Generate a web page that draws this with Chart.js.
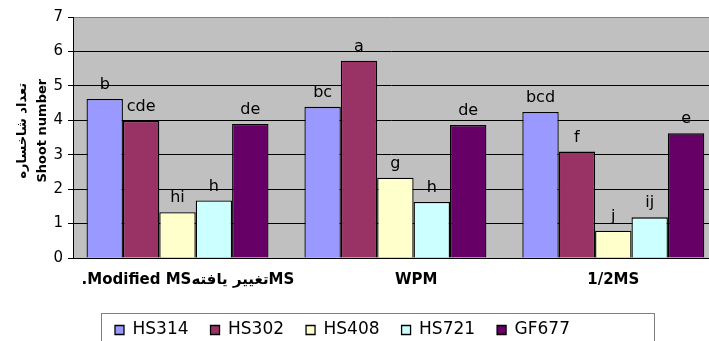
<!DOCTYPE html>
<html><head><meta charset="utf-8">
<script src="https://cdn.jsdelivr.net/npm/chart.js@4.4.1/dist/chart.umd.min.js"></script>
<style>html,body{margin:0;padding:0;background:#fff;overflow:hidden}</style>
</head><body>
<canvas id="c" width="709" height="341" style="width:709px;height:341px;display:block"></canvas>
<script>
const categories = ['\u00a0\u00a0\u00a0\u00a0.Modified MSتغییر یافتهMS', '\u00a0\u00a0\u00a0\u00a0\u00a0\u00a0\u00a0\u00a0WPM', '1/2MS'];
const seriesNames = ['HS314', 'HS302', 'HS408', 'HS721', 'GF677'];
const hs314 = [4.62, 4.39, 4.24];
const hs302 = [3.98, 5.73, 3.09];
const hs408 = [1.33, 2.33, 0.79];
const hs721 = [1.67, 1.63, 1.18];
const gf677 = [3.89, 3.86, 3.62];
const letters314 = ['b', 'bc', 'bcd'];
const letters302 = ['cde', 'a', 'f'];
const letters408 = ['hi', 'g', 'j'];
const letters721 = ['h', 'h', 'ij'];
const lettersGF677 = ['de', 'de', 'e'];
const yTicks = [0, 1, 2, 3, 4, 5, 6, 7];
const yTitle = ['تعداد شاخساره', 'Shoot number'];

const seriesValues = [hs314, hs302, hs408, hs721, gf677];
const seriesLetters = [letters314, letters302, letters408, letters721, lettersGF677];
const seriesColors = ['#9999FF', '#993366', '#FFFFCC', '#CCFFFF', '#660066'];

const datasets = seriesNames.map((name, i) => ({
  label: name,
  data: seriesValues[i].map((v, j) => ({x: j, y: v})),
  backgroundColor: seriesColors[i],
  borderColor: '#000',
  borderWidth: 1.3,
  borderSkipped: 'start',
  categoryPercentage: 0.835,
  barPercentage: 1
}));

const plotBg = {
  id: 'plotBg',
  beforeDraw(chart) {
    const {ctx, chartArea: a} = chart;
    ctx.save();
    ctx.fillStyle = '#C0C0C0';
    ctx.fillRect(a.left, a.top, a.right - a.left, a.bottom - a.top);
    ctx.restore();
  }
};

const letterLabels = {
  id: 'letterLabels',
  afterDatasetsDraw(chart) {
    const ctx = chart.ctx;
    ctx.save();
    ctx.font = '16px "DejaVu Sans"';
    ctx.fillStyle = '#000';
    ctx.textAlign = 'center';
    ctx.textBaseline = 'alphabetic';
    chart.data.datasets.forEach((ds, i) => {
      const meta = chart.getDatasetMeta(i);
      meta.data.forEach((el, j) => {
        ctx.fillText(seriesLetters[i][j], el.x, el.y - 10);
      });
    });
    ctx.restore();
  }
};

const legendPlace = {
  id: 'legendPlace',
  afterLayout(chart) {
    const lg = chart.legend;
    if (!lg || !lg.lineWidths) return;
    const p = lg.options.labels.padding;
    const firstX = (lg.left + p + lg.right - lg.lineWidths[0]) / 2;
    const dx = 115 - firstX;
    lg.left += dx; lg.right += dx;
    lg.top += 7.5; lg.bottom += 7.5;
  },
  afterDraw(chart) {
    const ctx = chart.ctx;
    ctx.save();
    ctx.strokeStyle = '#808080';
    ctx.lineWidth = 1;
    ctx.strokeRect(101.5, 313.5, 553, 40);
    ctx.restore();
  }
};

new Chart(document.getElementById('c'), {
  type: 'bar',
  data: {datasets},
  plugins: [plotBg, letterLabels, legendPlace],
  options: {
    responsive: false,
    animation: false,
    events: [],
    layout: {padding: {top: 17, left: 0, right: 0, bottom: 0}},
    plugins: {
      tooltip: {enabled: false},
      legend: {
        position: 'bottom',
        align: 'center',
        labels: {
          boxWidth: 9, boxHeight: 9, padding: 22, color: '#000',
          font: {family: 'DejaVu Sans', size: 17}
        }
      }
    },
    scales: {
      x: {
        type: 'linear',
        offset: false,
        bounds: 'data',
        min: -0.4796,
        max: 2.4392,
        afterBuildTicks(s) { s.ticks = categories.map((c, i) => ({value: i})); },
        afterFit(s) { s.height = 34; },
        ticks: {
          autoSkip: false, maxRotation: 0, minRotation: 0, padding: 13, color: '#000',
          font: {family: 'DejaVu Sans', size: 15, weight: 'bold'},
          callback: (v) => categories[v]
        },
        grid: {display: false, drawTicks: false, offset: false},
        border: {display: true, color: '#000', width: 1}
      },
      y: {
        min: 0,
        max: 7,
        afterFit(s) { s.width = 73; },
        afterBuildTicks(s) { s.ticks = yTicks.map(v => ({value: v})); },
        ticks: {padding: 5, color: '#000', font: {family: 'DejaVu Sans', size: 15}},
        grid: {
          color: (c) => (c.tick && c.tick.value === 7) ? '#808080' : '#000',
          tickColor: '#000', tickLength: 5, drawTicks: true, lineWidth: 1
        },
        border: {display: true, color: '#000', width: 1},
        title: {
          display: true,
          text: yTitle.map(t => '   ' + t),
          color: '#000',
          font: {family: 'DejaVu Sans', size: 13, weight: 'bold', lineHeight: 1.5},
          padding: {top: 13, bottom: 0}
        }
      }
    }
  }
});
</script>
</body></html>
